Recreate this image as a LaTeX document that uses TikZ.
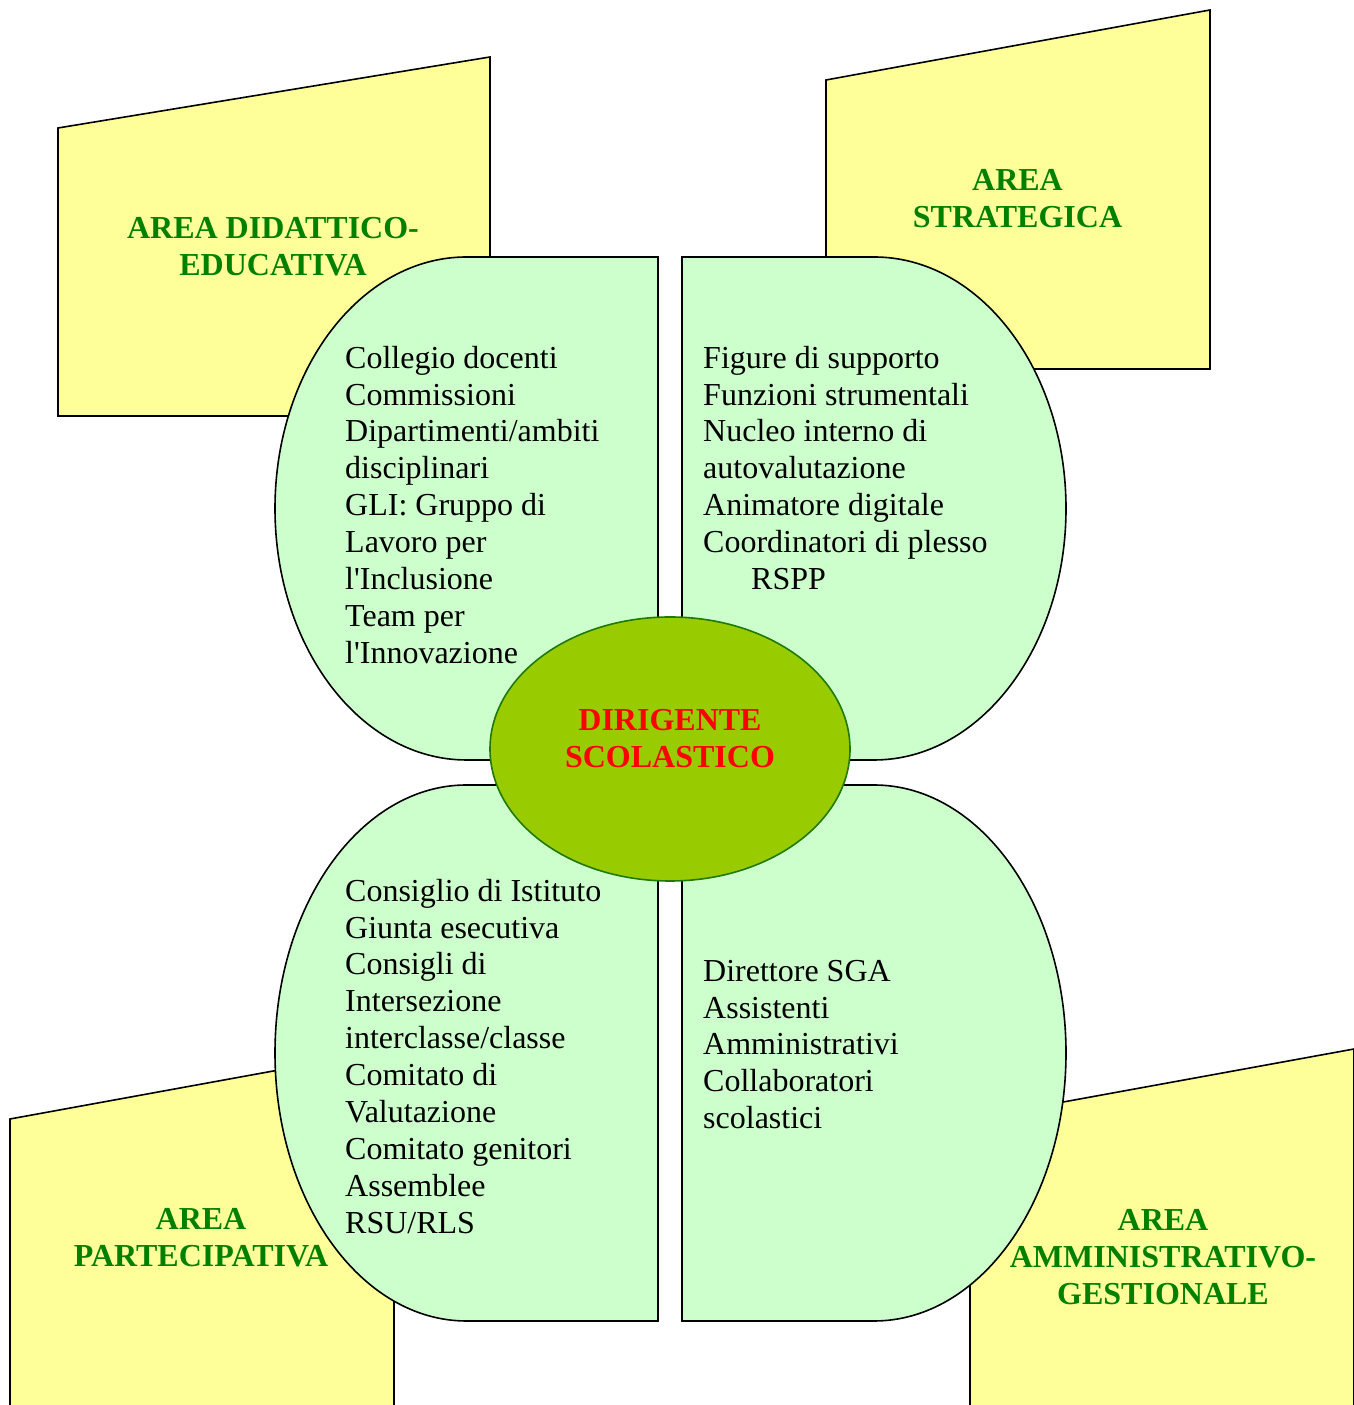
\documentclass[tikz,border=0pt]{standalone}
\usepackage{fontspec}
\setmainfont{Liberation Serif}[Ligatures=TeXOff]
\usetikzlibrary{shapes.geometric}
\definecolor{areayellow}{HTML}{FFFF99}
\definecolor{panelgreen}{HTML}{CCFFCC}
\definecolor{titlegreen}{HTML}{008000}
\definecolor{centregreen}{HTML}{99CC00}
\definecolor{centreborder}{HTML}{1F7A00}
\definecolor{centrered}{HTML}{FF0000}
\tikzset{
  yellowbox/.style={draw=black, fill=areayellow, line width=1.6pt, line join=miter},
  greenbox/.style={draw=black, fill=panelgreen, line width=1.6pt, line join=miter},
  listtext/.style={anchor=north west, inner sep=0pt, align=left,
    font=\fontsize{32}{36.9}\selectfont},
  areatitle/.style={anchor=north, inner sep=0pt, align=center, text=titlegreen,
    font=\fontsize{32}{37}\selectfont\bfseries},
}
\begin{document}
\begin{tikzpicture}[x=1pt,y=1pt]
\clip (0,0) rectangle (1354,1405);
\fill[white] (0,0) rectangle (1354,1405);
% yellow areas
\draw[yellowbox] (58,1277) -- (490,1348) -- (490,989) -- (58,989) -- cycle;
\draw[yellowbox] (826,1325) -- (1210,1395) -- (1210,1036) -- (826,1036) -- cycle;
\draw[yellowbox] (10,286) -- (394,356) -- (394,-20) -- (10,-20) -- cycle;
\draw[yellowbox] (970,286) -- (1354,356) -- (1354,-20) -- (970,-20) -- cycle;
% green panels
\draw[greenbox] (658,1148) -- (466.5,1148) arc[start angle=90, end angle=270, x radius=191.5, y radius=251.5] -- (658,645) -- cycle;
\draw[greenbox] (682,1148) -- (874,1148) arc[start angle=90, end angle=-90, x radius=192, y radius=251.5] -- (682,645) -- cycle;
\draw[greenbox] (658,620) -- (466.5,620) arc[start angle=90, end angle=270, x radius=191.5, y radius=268] -- (658,84) -- cycle;
\draw[greenbox] (682,620) -- (874,620) arc[start angle=90, end angle=-90, x radius=192, y radius=268] -- (682,84) -- cycle;
% centre
\node[ellipse, draw=centreborder, line width=1.6pt, fill=centregreen, minimum width=360pt, minimum height=264pt, inner sep=0pt] (ds) at (670,656) {};
\node[anchor=north, inner sep=0pt, align=center, text=centrered, font=\fontsize{32}{37}\selectfont\bfseries] (dstext) at (670,700.4) {\strut DIRIGENTE\\SCOLASTICO};
% area titles
\node[areatitle] (t1) at (273,1192.4) {\strut AREA DIDATTICO-\\EDUCATIVA};
\node[areatitle] (t2) at (1017.5,1240.4) {\strut AREA\\STRATEGICA};
\node[areatitle] (t3) at (201,201.4) {\strut AREA\\PARTECIPATIVA};
\node[areatitle] (t4) at (1163,200.4) {\strut AREA\\AMMINISTRATIVO-\\GESTIONALE};
% lists
\node[listtext] (l1) at (345,1062.9) {\strut Collegio docenti\\Commissioni\\Dipartimenti/ambiti\\disciplinari\\GLI: Gruppo di\\Lavoro per\\l'Inclusione\\Team per\\l'Innovazione};
\node[listtext] (l2) at (703,1062.9) {\strut Figure di supporto\\Funzioni strumentali\\Nucleo interno di\\autovalutazione\\Animatore digitale\\Coordinatori di plesso\\\hspace*{48pt}RSPP};
\node[listtext] (l3) at (345,529.9) {\strut Consiglio di Istituto\\Giunta esecutiva\\Consigli di\\Intersezione\\interclasse/classe\\Comitato di\\Valutazione\\Comitato genitori\\Assemblee\\RSU/RLS};
\node[listtext] (l4) at (703,449.9) {\strut Direttore SGA\\Assistenti\\Amministrativi\\Collaboratori\\scolastici};
\end{tikzpicture}
\end{document}
